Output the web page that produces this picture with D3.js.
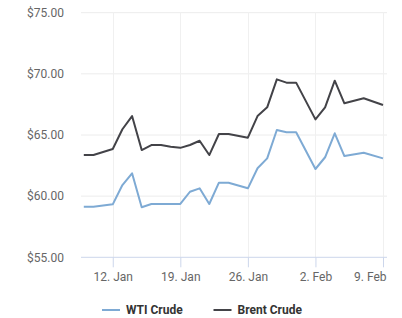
<!DOCTYPE html>
<html>
<head>
<meta charset="utf-8">
<script src="https://cdn.jsdelivr.net/npm/d3@7"></script>
<style>
  body { margin: 0; background: #fff; }
  svg { font-family: Roboto, "Noto Sans", sans-serif; }
</style>
</head>
<body>
<div id="chart"></div>
<script>
// data
var dates = ["2018-01-09", "2018-01-10", "2018-01-12", "2018-01-13", "2018-01-14", "2018-01-15",
  "2018-01-16", "2018-01-17", "2018-01-18", "2018-01-19", "2018-01-20", "2018-01-21",
  "2018-01-22", "2018-01-23", "2018-01-24", "2018-01-26", "2018-01-27", "2018-01-28",
  "2018-01-29", "2018-01-30", "2018-01-31", "2018-02-02", "2018-02-03", "2018-02-04",
  "2018-02-05", "2018-02-07", "2018-02-09"];
var wti = [59.14, 59.14, 59.33, 60.91, 61.87, 59.09, 59.36, 59.36, 59.36, 59.36, 60.36, 60.64,
  59.36, 61.10, 61.10, 60.64, 62.28, 63.09, 65.41, 65.22, 65.22, 62.22, 63.18, 65.14,
  63.28, 63.55, 63.09];
var brent = [63.36, 63.36, 63.86, 65.47, 66.55, 63.77, 64.18, 64.18, 64.04, 63.95, 64.18, 64.53,
  63.36, 65.08, 65.08, 64.78, 66.55, 67.26, 69.55, 69.28, 69.28, 66.28, 67.26, 69.44,
  67.59, 68.0, 67.45];
var xTicks = ["2018-01-12", "2018-01-19", "2018-01-26", "2018-02-02", "2018-02-09"];
var yTicks = [55, 60, 65, 70, 75];
var seriesNames = ["WTI Crude", "Brent Crude"];
var colors = ["#7eaad4", "#434348"];

var W = 402, H = 318;
var plotLeft = 81, plotRight = 387, plotTop = 12.7, plotBottom = 257.3;

var parse = d3.utcParse("%Y-%m-%d");
var fmt = d3.utcFormat("%-d. %b");
var dd = dates.map(parse);

var svg = d3.select("#chart").append("svg")
  .attr("width", W)
  .attr("height", H);

var x = d3.scaleUtc()
  .domain(d3.extent(dd))
  .range([83.8, 383]);
var y = d3.scaleLinear()
  .domain([55, 75])
  .range([plotBottom, plotTop]);

// horizontal grid
svg.append("g")
  .selectAll("line")
  .data(yTicks.slice(1))
  .enter().append("line")
  .attr("x1", plotLeft).attr("x2", plotRight)
  .attr("y1", function (d) { return y(d); })
  .attr("y2", function (d) { return y(d); })
  .attr("stroke", "#ececec");

// vertical grid
svg.append("g")
  .selectAll("line")
  .data(xTicks.map(parse))
  .enter().append("line")
  .attr("x1", function (d) { return Math.round(x(d)) + 0.5; })
  .attr("x2", function (d) { return Math.round(x(d)) + 0.5; })
  .attr("y1", plotTop).attr("y2", plotBottom)
  .attr("stroke", "#f0f0f0");

// y labels
svg.append("g")
  .selectAll("text")
  .data(yTicks)
  .enter().append("text")
  .attr("x", 64)
  .attr("y", function (d) { return y(d); })
  .attr("dy", "0.35em")
  .attr("text-anchor", "end")
  .attr("font-size", 12)
  .attr("fill", "#666")
  .text(function (d) { return "$" + d.toFixed(2); });

// x axis
var xAxis = svg.append("g")
  .attr("transform", "translate(0," + plotBottom + ")")
  .call(d3.axisBottom(x)
    .tickValues(xTicks.map(parse))
    .tickFormat(fmt)
    .tickSize(10)
    .tickSizeOuter(0)
    .tickPadding(5));
xAxis.select(".domain").remove();
xAxis.append("line")
  .attr("x1", plotLeft).attr("x2", plotRight)
  .attr("stroke", "#ccd6eb");
xAxis.selectAll(".tick line").attr("stroke", "#ccd6eb");
xAxis.selectAll(".tick text")
  .attr("font-size", 12)
  .attr("font-family", "Roboto, sans-serif")
  .attr("fill", "#666");
// keep the last label inside the chart, as the original does
xAxis.selectAll(".tick:last-of-type text")
  .attr("text-anchor", "end")
  .attr("x", 3);

// lines
var line = d3.line()
  .x(function (d) { return x(d[0]); })
  .y(function (d) { return y(d[1]); });

[wti, brent].forEach(function (vals, i) {
  svg.append("path")
    .datum(dd.map(function (d, j) { return [d, vals[j]]; }))
    .attr("fill", "none")
    .attr("stroke", colors[i])
    .attr("stroke-width", 2)
    .attr("stroke-linejoin", "round")
    .attr("d", line);
});

// legend
var legX = [102, 213.5];
var leg = svg.append("g")
  .selectAll("g")
  .data(seriesNames)
  .enter().append("g")
  .attr("transform", function (d, i) { return "translate(" + legX[i] + ",310)"; });
leg.append("line")
  .attr("x1", 0).attr("x2", 18)
  .attr("stroke", function (d, i) { return colors[i]; })
  .attr("stroke-width", 2);
leg.append("text")
  .attr("x", 24)
  .attr("dy", "0.35em")
  .attr("font-size", 12)
  .attr("font-weight", "bold")
  .attr("fill", "#333")
  .text(function (d) { return d; });
</script>
</body>
</html>
